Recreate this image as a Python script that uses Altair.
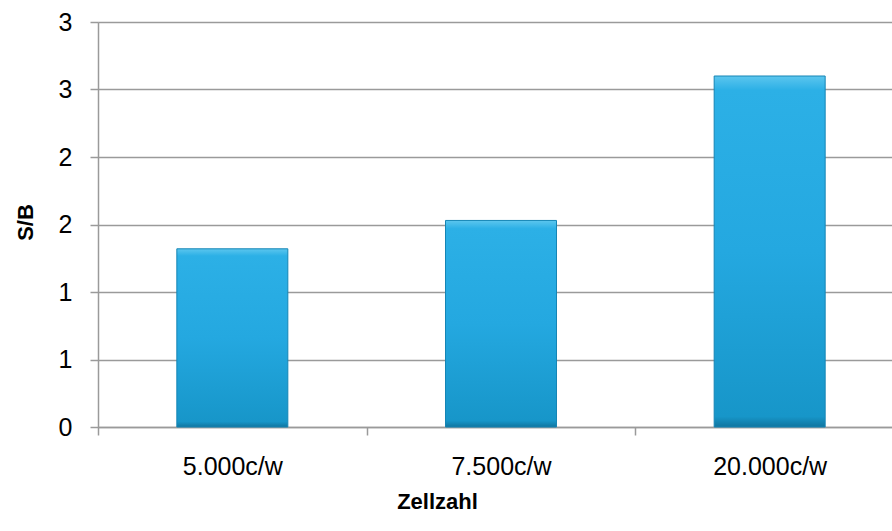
import altair as alt
import pandas as pd

# Cell counts per well and the measured signal-to-background ratio
categories = ["5.000c/w", "7.500c/w", "20.000c/w"]
sb_values = [1.32, 1.53, 2.60]
y_ticks = [0, 0.5, 1, 1.5, 2, 2.5, 3]

df = pd.DataFrame({"Zellzahl": categories, "S/B": sb_values})

FONT = "Liberation Sans"
GRID = "#9a9a9a"

bar_fill = alt.Gradient(
    gradient="linear",
    stops=[
        alt.GradientStop(color="#5cc6ee", offset=0),
        alt.GradientStop(color="#2cb0e6", offset=0.04),
        alt.GradientStop(color="#24a8e0", offset=0.5),
        alt.GradientStop(color="#1796c9", offset=0.97),
        alt.GradientStop(color="#10759f", offset=1),
    ],
    x1=0, x2=0, y1=0, y2=1,
)

chart = (
    alt.Chart(df)
    .mark_bar(size=111, fill=bar_fill, stroke="#1585b5", strokeWidth=1)
    .encode(
        x=alt.X(
            "Zellzahl:N",
            sort=categories,
            scale=alt.Scale(paddingInner=0, paddingOuter=0, rangeMax=806),
            axis=alt.Axis(
                title="Zellzahl",
                labelAngle=0,
                labelFont=FONT,
                labelFontSize=25,
                labelColor="#000000",
                labelPadding=19,
                tickBand="extent",
                tickColor=GRID,
                tickWidth=1.5,
                tickSize=8,
                domainColor=GRID,
                domainWidth=1.5,
                titleFont=FONT,
                titleFontSize=22,
                titleFontWeight="bold",
                titleColor="#000000",
                titleX=339,
                titleY=64,
                titleAnchor="middle",
                titleAlign="center",
                titleBaseline="top",
                grid=False,
            ),
        ),
        y=alt.Y(
            "S/B:Q",
            scale=alt.Scale(domain=[0, 3], nice=False),
            axis=alt.Axis(
                title="S/B",
                values=y_ticks,
                format=".0f",
                labelFont=FONT,
                labelFontSize=25,
                labelColor="#000000",
                labelPadding=18,
                tickColor=GRID,
                tickWidth=1.5,
                tickSize=8,
                domainColor=GRID,
                domainWidth=1.5,
                gridColor=GRID,
                gridWidth=1.5,
                titleFont=FONT,
                titleFontSize=22,
                titleFontWeight="bold",
                titleColor="#000000",
                titleX=-61,
                titleY=200,
                titleAngle=-90,
                titleAlign="center",
                titleBaseline="bottom",
            ),
        ),
    )
    .properties(
        width=794,
        height=405,
        autosize=alt.AutoSizeParams(type="none"),
        padding={"left": 98, "top": 22, "right": 0, "bottom": 104},
    )
    .configure_view(stroke=None)
    .configure(background="white")
)

chart.save("out.html", embed_options={"renderer": "svg", "actions": False})
